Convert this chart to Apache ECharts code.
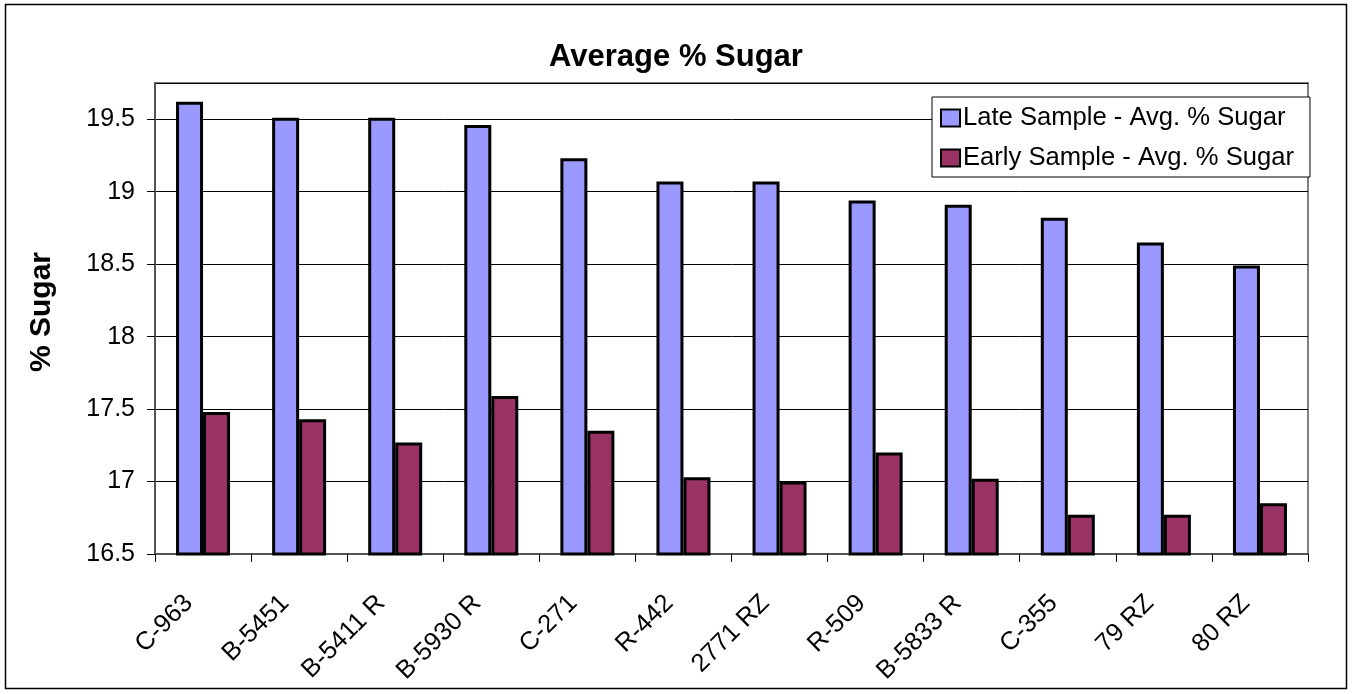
<!DOCTYPE html>
<html>
<head>
<meta charset="utf-8">
<title>Average % Sugar</title>
<script src="https://cdn.jsdelivr.net/npm/echarts@6/dist/echarts.min.js"></script>
<style>
  html, body { margin: 0; padding: 0; background: #ffffff; }
  #chart { width: 1352px; height: 694px; }
</style>
</head>
<body>
<div id="chart"></div>
<script>
// Varieties, in the order plotted
const varieties = ['C-963', 'B-5451', 'B-5411 R', 'B-5930 R', 'C-271', 'R-442',
                   '2771 RZ', 'R-509', 'B-5833 R', 'C-355', '79 RZ', '80 RZ'];

// Average % sugar per variety
const lateSample  = [19.62, 19.51, 19.51, 19.46, 19.23, 19.07, 19.07, 18.94, 18.91, 18.82, 18.65, 18.49];
const earlySample = [17.48, 17.43, 17.27, 17.59, 17.35, 17.03, 17.00, 17.20, 17.02, 16.77, 16.77, 16.85];

const seriesNames = ['Late Sample - Avg. % Sugar', 'Early Sample - Avg. % Sugar'];

const FONT = '"Liberation Sans", Arial, Helvetica, sans-serif';

const chart = echarts.init(document.getElementById('chart'), null, { renderer: 'canvas' });

chart.setOption({
  backgroundColor: '#ffffff',
  animation: false,
  title: {
    text: 'Average % Sugar',
    left: 'center',
    top: 37,
    textStyle: { fontFamily: FONT, fontSize: 31, fontWeight: 'bold', color: '#000' }
  },
  legend: {
    orient: 'vertical',
    left: 932,
    top: 97,
    padding: [8, 16, 6, 8],
    itemGap: 14,
    itemWidth: 19,
    itemHeight: 17,
    backgroundColor: '#ffffff',
    borderColor: '#000',
    borderWidth: 1,
    textStyle: { fontFamily: FONT, fontSize: 25.6, color: '#000', padding: [0, 0, 0, -2] },
    data: seriesNames.map(n => ({ name: n, icon: 'rect' }))
  },
  grid: {
    left: 155,
    right: 44,
    top: 83,
    bottom: 140,
    show: true,
    borderColor: '#808080',
    borderWidth: 2,
    backgroundColor: '#ffffff'
  },
  xAxis: {
    type: 'category',
    data: varieties,
    boundaryGap: true,
    axisLine: { lineStyle: { color: '#555', width: 2 } },
    axisTick: { show: true, length: 8, lineStyle: { color: '#000', width: 1 } },
    axisLabel: {
      rotate: 45,
      margin: 31,
      interval: 0,
      padding: [0, 20, 0, 0],
      fontFamily: FONT,
      fontSize: 25.5,
      color: '#000'
    }
  },
  yAxis: {
    type: 'value',
    min: 16.5,
    max: 19.75,
    interval: 0.5,
    axisLine: { show: true, lineStyle: { color: '#555', width: 2 } },
    axisTick: { show: true, length: 8, lineStyle: { color: '#000', width: 1 } },
    axisLabel: {
      showMaxLabel: false,
      margin: 20,
      fontFamily: FONT,
      fontSize: 25,
      color: '#000',
      formatter: v => String(v)
    },
    splitLine: { show: true, lineStyle: { color: '#000', width: 1 } }
  },
  series: [
    {
      name: seriesNames[0],
      type: 'bar',
      data: lateSample,
      barWidth: 27,
      barGap: '0%',
      itemStyle: { color: '#9999FF', borderColor: '#000', borderWidth: 3 }
    },
    {
      name: seriesNames[1],
      type: 'bar',
      data: earlySample,
      barWidth: 27,
      barGap: '0%',
      itemStyle: { color: '#993366', borderColor: '#000', borderWidth: 3 }
    }
  ],
  graphic: [
    {
      type: 'rect',
      z: -10,
      shape: { x: 5.5, y: 4.5, width: 1341, height: 684 },
      style: { fill: 'none', stroke: '#000', lineWidth: 1.5 }
    },
    {
      type: 'text',
      x: 42,
      y: 312,
      rotation: Math.PI / 2,
      style: {
        text: '% Sugar',
        font: 'bold 30px ' + FONT,
        fill: '#000',
        align: 'center',
        verticalAlign: 'middle'
      }
    }
  ]
});
</script>
</body>
</html>
